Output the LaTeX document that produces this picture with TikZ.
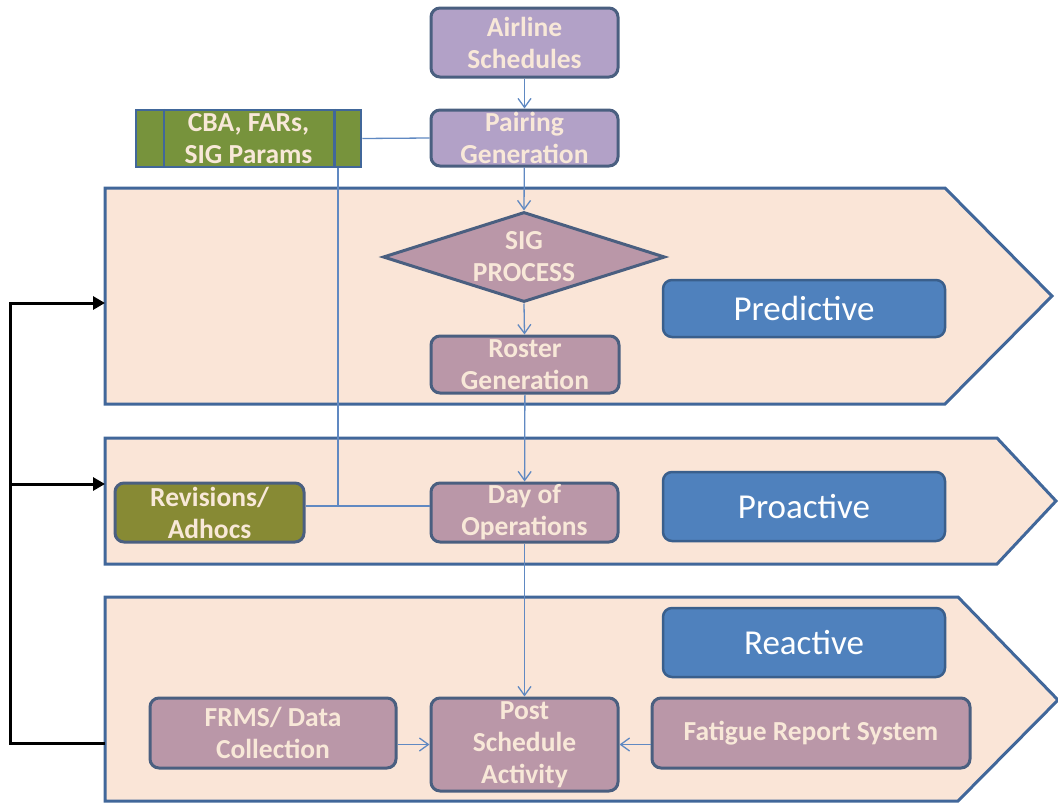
\documentclass[tikz,border=0pt]{standalone}
\usepackage{fontspec}
\setmainfont{Carlito}
\usetikzlibrary{arrows.meta,shapes.geometric}

\definecolor{bandfill}{HTML}{FAE5D7}
\definecolor{bandline}{HTML}{41679A}
\definecolor{boxline}{HTML}{4A5F80}
\definecolor{lavender}{HTML}{B2A1C7}
\definecolor{mauve}{HTML}{BA97A8}
\definecolor{olive}{HTML}{878A34}
\definecolor{leaf}{HTML}{77933C}
\definecolor{phase}{HTML}{4F81BD}
\definecolor{phaseline}{HTML}{3A5F8C}
\definecolor{cream}{HTML}{F8E8D8}
\definecolor{wire}{HTML}{6089C2}

\tikzset{
  band/.style={draw=bandline, line width=3pt, fill=bandfill, line join=miter},
  stepbox/.style={draw=boxline, line width=3pt, rounded corners=9pt,
    minimum height=#1, inner sep=0pt, text=cream, align=center,
    font=\fontsize{27.5}{32}\selectfont\bfseries},
  stepbox/.default=57pt,
  phasebox/.style={draw=phaseline, line width=2.5pt, fill=phase, rounded corners=9pt,
    minimum width=282pt, minimum height=#1, inner sep=0pt, text=white,
    font=\fontsize{35}{40}\selectfont},
  phasebox/.default=69pt,
  wirearrow/.style={draw=wire, line width=1.3pt, -{Straight Barb[length=9pt,width=13pt]}},
  wireline/.style={draw=wire, line width=1.3pt},
  feedback/.style={draw=black, line width=3pt, line join=miter},
  feedtip/.style={-{Triangle[length=12pt,width=13pt]}},
  label/.style={text=cream, align=center, inner sep=0pt,
    font=\fontsize{27.5}{32}\selectfont\bfseries},
}

\begin{document}
\begin{tikzpicture}[x=1pt,y=-1pt]
\useasboundingbox (0,0) rectangle (1058,803);

% three phase bands
\path[band] (105,188) -- (945,188) -- (1052,296) -- (945,404) -- (105,404) -- cycle;
\path[band] (105,438) -- (997,438) -- (1056,501) -- (997,564) -- (105,564) -- cycle;
\path[band] (105,597) -- (958,597) -- (1058,700) -- (958,801) -- (105,801) -- cycle;
\coordinate (b1w) at (105,303);
\coordinate (b2w) at (105,484);
\coordinate (b3w) at (105,743);

% planning chain
\node[stepbox=69pt, fill=lavender, minimum width=187pt] (air) at (524.5,42.5) {Airline\\Schedules};
\node[stepbox=56pt, fill=lavender, minimum width=187pt] (pair) at (524.5,138) {Pairing\\Generation};

% rules input (predefined process)
\node[draw=bandline, line width=2.5pt, fill=leaf, minimum width=225pt, minimum height=57pt,
      inner sep=0pt] (cba) at (248.5,138.5) {};
\draw[draw=bandline, line width=2.5pt] ([xshift=29pt]cba.north west) -- ([xshift=29pt]cba.south west)
      ([xshift=-28pt]cba.north east) -- ([xshift=-28pt]cba.south east);
\node[label] at (cba) {CBA, FARs,\\SIG Params};

% predictive band
\node[diamond, draw=boxline, line width=3pt, fill=mauve, aspect=3.13,
      minimum width=282pt, minimum height=90pt, inner sep=0pt] (sig) at (524,257) {};
\node[label] at (sig) {SIG\\PROCESS};
\node[stepbox, fill=mauve, minimum width=188pt] (roster) at (525,364.5) {Roster\\Generation};
\node[phasebox=57pt] (pred) at (804,308.5) {Predictive};

% proactive band
\node[stepbox=59pt, fill=olive, minimum width=189pt] (rev) at (209.5,512.5) {Revisions/\\Adhocs};
\node[stepbox=59pt, fill=mauve, minimum width=187pt] (day) at (524.5,512.5) {Day of\\Operations};
\node[phasebox] (proact) at (804,506.5) {Proactive};

% reactive band
\node[phasebox] (react) at (804,642.5) {Reactive};
\node[stepbox=70pt, fill=mauve, minimum width=246pt] (frms) at (273,733) {FRMS/ Data\\Collection};
\node[stepbox=93pt, fill=mauve, minimum width=187pt] (post) at (524.5,744.5) {Post\\Schedule\\Activity};
\node[stepbox=70pt, fill=mauve, minimum width=318pt] (fat) at (811,733) {Fatigue Report System};

% connectors
\coordinate (j) at (338,506);
\draw[wireline] (cba.east) -- (pair.west);
\draw[wireline] (j |- cba.south) -- (j);
\draw[wireline] (rev.east |- j) -- (day.west |- j);
\draw[wirearrow] (air) -- (pair);
\draw[wirearrow] (pair) -- (sig.north);
\draw[wirearrow] (sig.south) -- (roster);
\draw[wirearrow] (roster) -- (day);
\draw[wirearrow] (day) -- (post);
\draw[wirearrow] (frms.east |- post.west) -- (post.west);
\draw[wirearrow] (fat.west |- post.east) -- (post.east);

% feedback loop
\coordinate (f1) at (10,303);
\coordinate (f2) at (10,484);
\coordinate (f3) at (10,743);
\draw[feedback, feedtip] (b3w) -- (f3) -- (f1) -- (b1w);
\draw[feedback, feedtip] (f2) -- (b2w);
\end{tikzpicture}
\end{document}
